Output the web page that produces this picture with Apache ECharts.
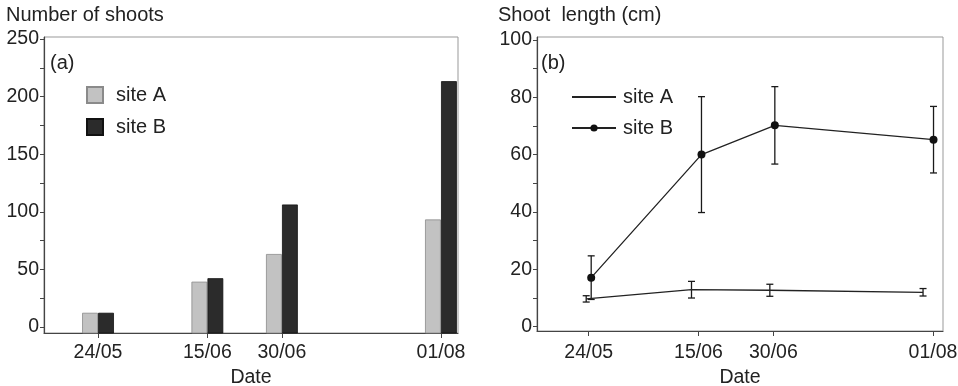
<!DOCTYPE html>
<html>
<head>
<meta charset="utf-8">
<script src="https://cdn.jsdelivr.net/npm/echarts@6/dist/echarts.min.js"></script>
<style>
  html, body { margin: 0; padding: 0; background: #fff; }
  #chart { width: 958px; height: 386px; }
</style>
</head>
<body>
<div id="chart"></div>
<script>
// ---- data ----
const dateLabels = ['24/05', '15/06', '30/06', '01/08'];
const seriesNames = ['site A', 'site B'];
// (a) number of shoots
const siteACount = [12, 39, 63, 93];
const siteBCount = [12, 42, 106, 213];
// (b) shoot length (cm), mean and error
const siteALength = [9.7, 12.9, 12.7, 12.0];
const siteAErr = [1.1, 2.9, 2.1, 1.3];
const siteBLength = [17.1, 60.0, 70.2, 65.2];
const siteBErr = [7.6, 20.2, 13.5, 11.6];
// small horizontal dodge of the (b) points, in days
const siteADodge = [-0.5, -1.4, -0.7, -2.0];
const siteBDodge = [0.5, 0.6, 0.3, 0.1];
// tick labels
const countTicks = [0, 50, 100, 150, 200, 250];
const lengthTicks = [0, 20, 40, 60, 80, 100];

// ---- helpers ----
function dayOf(s) {
  const p = s.split('/').map(Number);
  return Date.UTC(2000, p[1] - 1, p[0]) / 86400000;
}
const day0 = dayOf(dateLabels[0]);
const xDays = dateLabels.map(s => dayOf(s) - day0);
function labelFor(v) {
  const i = xDays.findIndex(d => Math.abs(d - v) < 1e-6);
  return i >= 0 ? dateLabels[i] : '';
}
function withMinor(ticks) {
  const out = [];
  for (let i = 0; i < ticks.length; i++) {
    out.push(ticks[i]);
    if (i < ticks.length - 1) out.push((ticks[i] + ticks[i + 1]) / 2);
  }
  return out;
}

const COUNT_MIN = -5.2, COUNT_MAX = 251.7;
const LEN_MIN = -1.5, LEN_MAX = 101;
const FONT = "'Liberation Sans', Arial, sans-serif";
const TXT = '#222';
const AX = '#444';
const TICK_FS = 19.5;
const TEXT_FS = 20;

function barRender(offset) {
  return function (params, api) {
    const x = api.value(0), v = api.value(1);
    const top = api.coord([x, v]);
    const base = api.coord([x, COUNT_MIN]);
    return {
      type: 'rect',
      shape: { x: top[0] + offset, y: top[1], width: 15, height: base[1] - top[1] },
      style: api.style()
    };
  };
}
function errRender(params, api) {
  const x = api.value(0);
  const lo = api.coord([x, api.value(1)]);
  const hi = api.coord([x, api.value(2)]);
  const w = 3.5;
  const st = { stroke: '#1a1a1a', lineWidth: 1.3 };
  return {
    type: 'group',
    children: [
      { type: 'line', shape: { x1: lo[0], y1: lo[1], x2: hi[0], y2: hi[1] }, style: st },
      { type: 'line', shape: { x1: lo[0] - w, y1: lo[1], x2: lo[0] + w, y2: lo[1] }, style: st },
      { type: 'line', shape: { x1: hi[0] - w, y1: hi[1], x2: hi[0] + w, y2: hi[1] }, style: st }
    ]
  };
}

const countA = xDays.map((d, i) => [d, siteACount[i]]);
const countB = xDays.map((d, i) => [d, siteBCount[i]]);
const lenA = xDays.map((d, i) => [d + siteADodge[i], siteALength[i]]);
const lenB = xDays.map((d, i) => [d + siteBDodge[i], siteBLength[i]]);
const errA = xDays.map((d, i) => [d + siteADodge[i], siteALength[i] - siteAErr[i], siteALength[i] + siteAErr[i]]);
const errB = xDays.map((d, i) => [d + siteBDodge[i], siteBLength[i] - siteBErr[i], siteBLength[i] + siteBErr[i]]);

function xAxisFor(gridIndex, min, max, margin, gap) {
  return {
    gridIndex, type: 'value', min, max,
    name: 'Date', nameLocation: 'middle', nameGap: gap,
    nameTextStyle: { fontFamily: FONT, fontSize: TICK_FS, color: TXT },
    axisLine: { show: true, onZero: false, lineStyle: { color: AX, width: 1.2 } },
    axisTick: { show: true, length: 5, customValues: xDays, lineStyle: { color: AX } },
    axisLabel: { customValues: xDays, formatter: v => labelFor(v), margin,
                 fontFamily: FONT, fontSize: TICK_FS, color: TXT },
    splitLine: { show: false }
  };
}
function yAxisFor(gridIndex, min, max, ticks) {
  return {
    gridIndex, type: 'value', min, max,
    axisLine: { show: true, onZero: false, lineStyle: { color: AX, width: 1.2 } },
    axisTick: { show: true, length: 4, customValues: withMinor(ticks), lineStyle: { color: AX } },
    axisLabel: { customValues: ticks, margin: 5, fontFamily: FONT, fontSize: TICK_FS, color: TXT },
    splitLine: { show: false }
  };
}
const titleStyle = { fontFamily: FONT, fontSize: TEXT_FS, fontWeight: 'normal', color: TXT };

const chart = echarts.init(document.getElementById('chart'), null, { renderer: 'canvas' });
chart.setOption({
  animation: false,
  backgroundColor: '#fff',
  textStyle: { fontFamily: FONT },
  title: [
    { text: 'Number of shoots', left: 6, top: 5, padding: 0, textStyle: titleStyle },
    { text: 'Shoot  length (cm)', left: 498, top: 5, padding: 0, textStyle: titleStyle },
    { text: '(a)', left: 50, top: 53, padding: 0, textStyle: titleStyle },
    { text: '(b)', left: 541, top: 53, padding: 0, textStyle: titleStyle }
  ],
  grid: [
    { left: 44, top: 37, width: 414, height: 296, outerBoundsMode: 'none', containLabel: false,
      show: true, borderColor: '#999', borderWidth: 1 },
    { left: 537, top: 37, width: 406, height: 294, outerBoundsMode: 'none', containLabel: false,
      show: true, borderColor: '#999', borderWidth: 1 }
  ],
  legend: [
    { orient: 'vertical', left: 86, top: 85, padding: 0, itemGap: 12,
      itemWidth: 16, itemHeight: 16, icon: 'rect',
      data: seriesNames,
      textStyle: { fontFamily: FONT, fontSize: TEXT_FS, color: TXT, padding: [0, 0, 0, 8] } },
    { orient: 'vertical', left: 571, top: 87, padding: 0, itemGap: 11,
      itemWidth: 44, itemHeight: 9,
      data: seriesNames.map(n => n + ' (b)'),
      formatter: n => n.replace(' (b)', ''),
      textStyle: { fontFamily: FONT, fontSize: TEXT_FS, color: TXT, padding: [0, 0, 0, 2] } }
  ],
  xAxis: [ xAxisFor(0, -10.87, 72.43, 10, 26), xAxisFor(1, -10.36, 71.0, 12, 28) ],
  yAxis: [ yAxisFor(0, COUNT_MIN, COUNT_MAX, countTicks), yAxisFor(1, LEN_MIN, LEN_MAX, lengthTicks) ],
  series: [
    { name: seriesNames[0], type: 'custom', xAxisIndex: 0, yAxisIndex: 0,
      renderItem: barRender(-15.5), encode: { x: 0, y: 1 }, data: countA,
      itemStyle: { color: '#c2c2c2', borderColor: '#8a8a8a', borderWidth: 0.8 } },
    { name: seriesNames[1], type: 'custom', xAxisIndex: 0, yAxisIndex: 0,
      renderItem: barRender(0.5), encode: { x: 0, y: 1 }, data: countB,
      itemStyle: { color: '#2b2b2b', borderColor: '#111', borderWidth: 0.8 } },
    { name: 'errA', type: 'custom', xAxisIndex: 1, yAxisIndex: 1,
      renderItem: errRender, encode: { x: 0, y: [1, 2] }, data: errA, z: 3 },
    { name: 'errB', type: 'custom', xAxisIndex: 1, yAxisIndex: 1,
      renderItem: errRender, encode: { x: 0, y: [1, 2] }, data: errB, z: 3 },
    { name: seriesNames[0] + ' (b)', type: 'line', xAxisIndex: 1, yAxisIndex: 1,
      data: lenA, symbol: 'none', z: 4,
      lineStyle: { color: '#222', width: 1.3 },
      itemStyle: { color: 'rgba(0,0,0,0)', borderWidth: 0 } },
    { name: seriesNames[1] + ' (b)', type: 'line', xAxisIndex: 1, yAxisIndex: 1,
      data: lenB, symbol: 'circle', symbolSize: 8, z: 5,
      lineStyle: { color: '#222', width: 1.3 }, itemStyle: { color: '#111' } }
  ]
});
</script>
</body>
</html>
